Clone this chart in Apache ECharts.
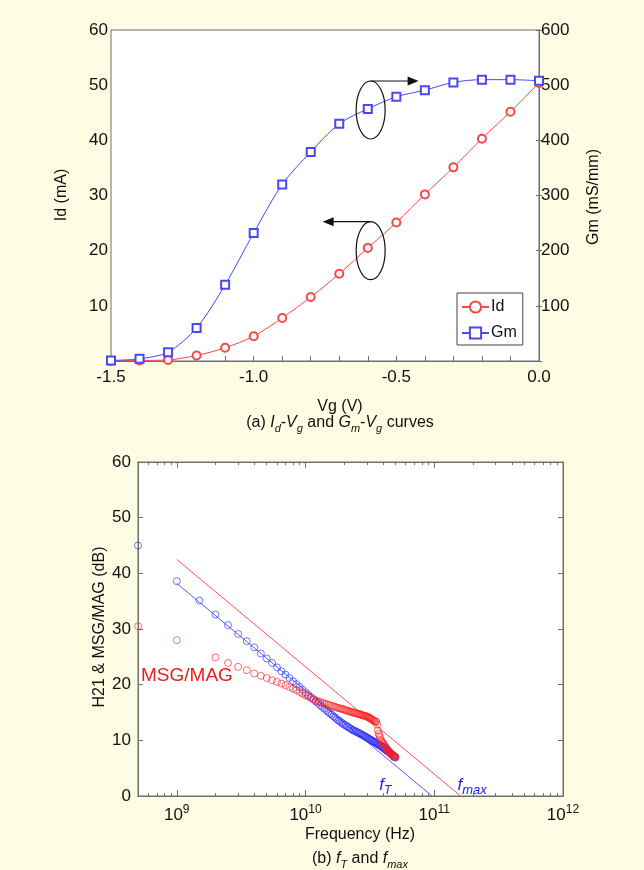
<!DOCTYPE html>
<html>
<head>
<meta charset="utf-8">
<script src="https://cdn.jsdelivr.net/npm/echarts@6/dist/echarts.min.js"></script>
<style>
  html, body { margin: 0; padding: 0; background: #FDFDE3; }
  #chart { width: 644px; height: 870px; }
</style>
</head>
<body>
<div id="chart"></div>
<script>
// ---------- (a) transfer characteristics ----------
const vg = [-1.5, -1.4, -1.3, -1.2, -1.1, -1.0, -0.9, -0.8, -0.7, -0.6, -0.5, -0.4, -0.3, -0.2, -0.1, 0.0];
const idMilliAmp = [0.0, 0.1, 0.2, 1.0, 2.4, 4.5, 7.8, 11.6, 15.8, 20.5, 25.1, 30.2, 35.1, 40.3, 45.2, 50.4];
const gmMilliSiemens = [1, 4, 16, 60, 138, 232, 320, 379, 430, 457, 479, 491, 505, 510, 510, 508];
const vgTickLabels = [-1.5, -1.0, -0.5, 0.0];
const idTickLabels = [10, 20, 30, 40, 50, 60];
const gmTickLabels = [100, 200, 300, 400, 500, 600];

// ---------- (b) small-signal gain vs frequency ----------
const freqGHz = [
  0.5, 1, 1.5, 2, 2.5, 3, 3.5, 4, 4.5, 5,
  5.5, 6, 6.5, 7, 7.5, 8, 8.5, 9, 9.5, 10,
  10.5, 11, 11.5, 12, 12.5, 13, 13.5, 14, 14.5, 15,
  15.5, 16, 16.5, 17, 17.5, 18, 18.5, 19, 19.5, 20,
  20.5, 21, 21.5, 22, 22.5, 23, 23.5, 24, 24.5, 25,
  25.5, 26, 26.5, 27, 27.5, 28, 28.5, 29, 29.5, 30,
  30.5, 31, 31.5, 32, 32.5, 33, 33.5, 34, 34.5, 35,
  35.5, 36, 36.5, 37, 37.5, 38, 38.5, 39, 39.5, 40,
  40.5, 41, 41.5, 42, 42.5, 43, 43.5, 44, 44.5, 45,
  45.5, 46, 46.5, 47, 47.5, 48, 48.5, 49, 49.5, 50
];
const h21Db = [
  45.0, 38.6, 35.1, 32.6, 30.7, 29.1, 27.8, 26.7, 25.6, 24.7,
  23.9, 23.1, 22.4, 21.8, 21.2, 20.6, 20.1, 19.6, 19.1, 18.6,
  18.2, 17.8, 17.4, 17.0, 16.7, 16.3, 16.0, 15.7, 15.4, 15.1,
  14.8, 14.6, 14.3, 14.1, 13.8, 13.6, 13.4, 13.2, 13.0, 12.8,
  12.7, 12.5, 12.4, 12.2, 12.1, 11.9, 11.8, 11.7, 11.6, 11.5,
  11.4, 11.3, 11.2, 11.1, 11.0, 10.9, 10.8, 10.7, 10.6, 10.5,
  10.4, 10.3, 10.2, 10.1, 10.0, 9.9, 9.8, 9.8, 9.7, 9.6,
  9.5, 9.4, 9.3, 9.2, 9.1, 9.1, 9.0, 8.9, 8.8, 8.7,
  8.6, 8.5, 8.4, 8.3, 8.2, 8.1, 8.0, 8.0, 7.9, 7.8,
  7.7, 7.6, 7.5, 7.4, 7.3, 7.2, 7.1, 7.0, 7.0, 6.9
];
const msgMagDb = [
  30.5, 28.0, null, 24.9, 23.9, 23.2, 22.6, 22.0, 21.6, 21.2,
  20.8, 20.5, 20.2, 19.9, 19.6, 19.3, 19.0, 18.7, 18.4, 18.1,
  17.9, 17.6, 17.4, 17.2, 17.0, 16.9, 16.7, 16.6, 16.5, 16.4,
  16.3, 16.2, 16.1, 16.0, 15.9, 15.8, 15.7, 15.7, 15.6, 15.5,
  15.4, 15.3, 15.3, 15.2, 15.1, 15.1, 15.0, 14.9, 14.9, 14.8,
  14.8, 14.7, 14.7, 14.6, 14.5, 14.5, 14.4, 14.4, 14.3, 14.3,
  14.2, 14.1, 14.0, 13.9, 13.8, 13.7, 13.6, 13.5, 13.4, 13.3,
  13.4, 12.8, 11.8, 11.2, 10.9, 10.5, 10.0, 9.8, 9.6, 9.4,
  9.3, 9.0, 8.9, 8.7, 8.6, 8.4, 8.2, 8.1, 8.0, 7.8,
  7.7, 7.6, 7.5, 7.4, 7.4, 7.3, 7.2, 7.1, 7.1, 7.0
];
// -20 dB/decade extrapolations: [frequency Hz, dB]
const ftFit = [[1e9, 38.2], [9.6e10, 0]];
const fmaxFit = [[1e9, 42.5], [1.6e11, 0]];
const freqMajorTicks = [1e9, 1e10, 1e11, 1e12];
const freqMinorTicks = [
  6e8, 7e8, 8e8, 9e8,
  2e9, 3e9, 4e9, 5e9, 6e9, 7e9, 8e9, 9e9,
  2e10, 3e10, 4e10, 5e10, 6e10, 7e10, 8e10, 9e10,
  2e11, 3e11, 4e11, 5e11, 6e11, 7e11, 8e11, 9e11
];
const dbTickLabels = [0, 10, 20, 30, 40, 50, 60];

const FONT = "'Liberation Sans', Arial, Helvetica, sans-serif";
const AXIS = '#6f6f6f';
const TXT = '#111';
const RED = '#f54848';
const BLUE = '#4848f5';
const LABEL_BLUE = '#2020ee';

const chart = echarts.init(document.getElementById('chart'), null, { renderer: 'canvas' });

const near = (list, v) => list.some(t => Math.abs(t - v) < 1e-6);

function logXAxis(position, ticks, len, withLabels) {
  return {
    type: 'log', logBase: 10, gridIndex: 1, position: position,
    min: 5e8, max: 1e12,
    axisLine: { show: true, onZero: false, lineStyle: { color: AXIS } },
    axisTick: { show: true, inside: true, length: len, customValues: ticks, lineStyle: { color: AXIS } },
    axisLabel: withLabels ? {
      show: true, margin: 8, customValues: freqMajorTicks, color: TXT, fontFamily: FONT,
      formatter: v => '{b|10}{s|' + Math.round(Math.log10(v)) + '}',
      rich: {
        b: { fontSize: 17, fontFamily: FONT, color: TXT, lineHeight: 22 },
        s: { fontSize: 12, fontFamily: FONT, color: TXT, verticalAlign: 'top' }
      }
    } : { show: false },
    splitLine: { show: false },
    minorTick: { show: false }
  };
}

const option = {
  backgroundColor: '#FDFDE3',
  animation: false,
  textStyle: { fontFamily: FONT },
  grid: [
    { left: 111, top: 30, width: 428, height: 331, show: true, backgroundColor: '#ffffff',
      borderColor: AXIS, borderWidth: 1, containLabel: false, outerBoundsMode: 'none' },
    { left: 138, top: 462, width: 425, height: 334, show: true, backgroundColor: '#ffffff',
      borderColor: AXIS, borderWidth: 1, containLabel: false, outerBoundsMode: 'none' }
  ],
  legend: {
    data: ['Id', 'Gm'],
    orient: 'vertical', left: 457, top: 293,
    padding: [6, 6, 4, 4], itemGap: 10, itemWidth: 27, itemHeight: 14,
    backgroundColor: '#ffffff', borderColor: '#444', borderWidth: 1, borderRadius: 0,
    textStyle: { fontSize: 16, fontFamily: FONT, color: TXT, padding: [0, 0, 0, -3] }
  },
  xAxis: [
    {
      type: 'value', gridIndex: 0, min: -1.5, max: 0, interval: 0.1,
      axisLine: { onZero: false, lineStyle: { color: AXIS } },
      axisTick: { inside: true, length: 5, lineStyle: { color: AXIS } },
      axisLabel: { margin: 8, fontSize: 17, color: TXT, fontFamily: FONT,
        formatter: v => near(vgTickLabels, v) ? v.toFixed(1) : '' },
      splitLine: { show: false }
    },
    logXAxis('bottom', freqMajorTicks, 6, true),
    logXAxis('bottom', freqMinorTicks, 3, false),
    logXAxis('top', freqMajorTicks, 6, false),
    logXAxis('top', freqMinorTicks, 3, false)
  ],
  yAxis: [
    {
      type: 'value', gridIndex: 0, position: 'left', min: 0, max: 60, interval: 10,
      axisLine: { show: true, lineStyle: { color: AXIS } },
      axisTick: { show: true, inside: false, length: 3, lineStyle: { color: AXIS } },
      axisLabel: { margin: 3, fontSize: 17, color: TXT, fontFamily: FONT,
        formatter: v => near(idTickLabels, v) ? String(v) : '' },
      splitLine: { show: false }
    },
    {
      type: 'value', gridIndex: 0, position: 'right', min: 0, max: 600, interval: 100,
      axisLine: { show: true, lineStyle: { color: AXIS } },
      axisTick: { show: true, inside: false, length: 3, lineStyle: { color: AXIS } },
      axisLabel: { margin: 2, fontSize: 17, color: TXT, fontFamily: FONT,
        formatter: v => near(gmTickLabels, v) ? String(v) : '' },
      splitLine: { show: false }
    },
    {
      type: 'value', gridIndex: 1, position: 'left', min: 0, max: 60, interval: 10,
      axisLine: { show: true, lineStyle: { color: AXIS } },
      axisTick: { show: true, inside: true, length: 5, lineStyle: { color: AXIS } },
      axisLabel: { margin: 7, fontSize: 17, color: TXT, fontFamily: FONT,
        formatter: v => near(dbTickLabels, v) ? String(v) : '' },
      splitLine: { show: false }
    },
    {
      type: 'value', gridIndex: 1, position: 'right', min: 0, max: 60, interval: 10,
      axisLine: { show: true, lineStyle: { color: AXIS } },
      axisTick: { show: true, inside: true, length: 5, lineStyle: { color: AXIS } },
      axisLabel: { show: false },
      splitLine: { show: false }
    }
  ],
  series: [
    {
      name: 'Id', type: 'line', xAxisIndex: 0, yAxisIndex: 0,
      data: vg.map((v, i) => [v, idMilliAmp[i]]),
      smooth: 0.3,
      symbol: 'emptyCircle', symbolSize: 8,
      lineStyle: { color: RED, width: 1 },
      itemStyle: { color: RED, borderWidth: 1 },
      z: 3
    },
    {
      name: 'Gm', type: 'line', xAxisIndex: 0, yAxisIndex: 1,
      data: vg.map((v, i) => [v, gmMilliSiemens[i]]),
      smooth: 0.3,
      symbol: 'emptyRect', symbolSize: 8,
      lineStyle: { color: BLUE, width: 1 },
      itemStyle: { color: BLUE, borderWidth: 1 },
      z: 3
    },
    {
      name: 'fT fit', type: 'line', xAxisIndex: 1, yAxisIndex: 2,
      data: ftFit, symbol: 'none',
      lineStyle: { color: '#5060ff', width: 1 }, z: 2
    },
    {
      name: 'fmax fit', type: 'line', xAxisIndex: 1, yAxisIndex: 2,
      data: fmaxFit, symbol: 'none',
      lineStyle: { color: '#ff5050', width: 1 }, z: 2
    },
    {
      name: 'H21', type: 'scatter', xAxisIndex: 1, yAxisIndex: 2,
      data: freqGHz.map((f, i) => [f * 1e9, h21Db[i]]),
      symbol: 'circle', symbolSize: 7,
      itemStyle: { color: 'rgba(0,0,0,0)', borderColor: 'rgba(40,40,255,0.8)', borderWidth: 1 },
      z: 3
    },
    {
      name: 'MSG/MAG', type: 'scatter', xAxisIndex: 1, yAxisIndex: 2,
      data: freqGHz.map((f, i) => [f * 1e9, msgMagDb[i]]).filter(p => p[1] !== null),
      symbol: 'circle', symbolSize: 7,
      itemStyle: { color: 'rgba(0,0,0,0)', borderColor: 'rgba(255,30,30,0.8)', borderWidth: 1 },
      z: 4
    }
  ]
};

chart.setOption(option);

// ---------- titles, axis names and annotations ----------
const baseText = { fontSize: 16, fontFamily: FONT, fill: TXT };
function subRich(fill, big, small) {
  return {
    i: { fontStyle: 'italic', fontSize: big, fontFamily: FONT, fill: fill, lineHeight: 22 },
    s: { fontStyle: 'italic', fontSize: small, fontFamily: FONT, fill: fill, verticalAlign: 'bottom' }
  };
}

function txt(x, y, text, extra) {
  return Object.assign({ type: 'text', x: x, y: y, silent: true,
    style: Object.assign({ text: text, align: 'center', verticalAlign: 'middle' }, baseText) }, extra || {});
}

const px = (finder, pt) => chart.convertToPixel(finder, pt);
const gmAnchor = px({ xAxisIndex: 0, yAxisIndex: 1 }, [-0.59, 455]);
const idAnchor = px({ xAxisIndex: 0, yAxisIndex: 0 }, [-0.59, 20.0]);
const ftAt = px({ xAxisIndex: 1, yAxisIndex: 2 }, [4.16e10, 1.9]);
const fmaxAt = px({ xAxisIndex: 1, yAxisIndex: 2 }, [1.97e11, 1.9]);
const msgAt = px({ xAxisIndex: 1, yAxisIndex: 2 }, [1.2e9, 21.6]);

const RX = 14.5, RY = 29;
function ellipseWithArrow(c, dir) {
  const y0 = c[1] - RY;
  const x1 = c[0] + dir * 48;
  return [
    { type: 'ellipse', silent: true, shape: { cx: c[0], cy: c[1], rx: RX, ry: RY },
      style: { fill: null, stroke: '#111', lineWidth: 1.2 }, z: 10 },
    { type: 'line', silent: true, shape: { x1: c[0], y1: y0, x2: x1 - dir * 8, y2: y0 },
      style: { stroke: '#111', lineWidth: 1.2 }, z: 10 },
    { type: 'polygon', silent: true,
      shape: { points: [[x1, y0], [x1 - dir * 11, y0 - 4.5], [x1 - dir * 11, y0 + 4.5]] },
      style: { fill: '#111' }, z: 10 }
  ];
}

chart.setOption({
  graphic: [
    txt(62, 195, 'Id (mA)', { rotation: Math.PI / 2 }),
    txt(594, 197, 'Gm (mS/mm)', { rotation: Math.PI / 2 }),
    txt(340, 407, 'Vg (V)'),
    { type: 'text', x: 340, y: 423, silent: true,
      style: { text: '(a) {i|I}{s|d}-{i|V}{s|g} and {i|G}{s|m}-{i|V}{s|g} curves',
        rich: subRich(TXT, 16, 11), align: 'center', verticalAlign: 'middle',
        fontSize: 16, fontFamily: FONT, fill: TXT, lineHeight: 22 } },
    txt(100, 627, 'H21 & MSG/MAG (dB)', { rotation: Math.PI / 2 }),
    txt(360, 835, 'Frequency (Hz)'),
    { type: 'text', x: 360, y: 859, silent: true,
      style: { text: '(b) {i|f}{s|T} and {i|f}{s|max}',
        rich: subRich(TXT, 16, 11), align: 'center', verticalAlign: 'middle',
        fontSize: 16, fontFamily: FONT, fill: TXT, lineHeight: 22 } },
    { type: 'text', x: msgAt[0], y: msgAt[1], silent: true, z: 10,
      style: { text: 'MSG/MAG', fontSize: 19, fontFamily: FONT, fill: '#ee1c1c',
        align: 'center', verticalAlign: 'middle' } },
    { type: 'text', x: ftAt[0], y: ftAt[1], silent: true, z: 10,
      style: { text: '{i|f}{s|T}', align: 'center', verticalAlign: 'middle',
        fontSize: 17, fontFamily: FONT, fill: LABEL_BLUE,
        rich: subRich(LABEL_BLUE, 17, 12) } },
    { type: 'text', x: fmaxAt[0], y: fmaxAt[1], silent: true, z: 10,
      style: { text: '{i|f}{s|max}', align: 'center', verticalAlign: 'middle',
        fontSize: 17, fontFamily: FONT, fill: LABEL_BLUE,
        rich: subRich(LABEL_BLUE, 17, 13) } }
  ].concat(ellipseWithArrow(gmAnchor, 1), ellipseWithArrow(idAnchor, -1))
});
</script>
</body>
</html>
